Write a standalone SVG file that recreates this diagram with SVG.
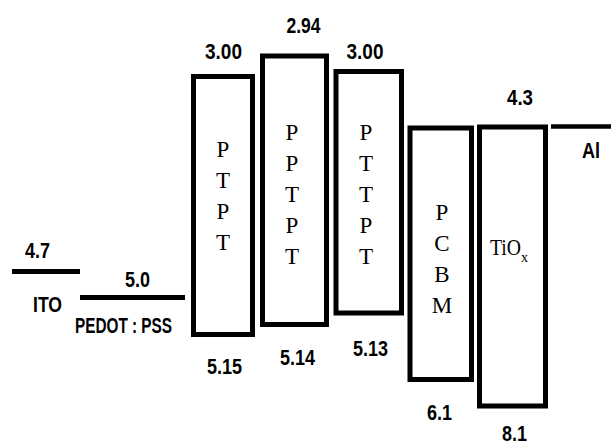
<svg xmlns="http://www.w3.org/2000/svg" width="611" height="446" viewBox="0 0 611 446">
<style>
.bg{fill:#fff}
.box{fill:#fff;stroke:#000;stroke-width:5;stroke-linejoin:miter}
.lvl{stroke:#000;stroke-width:5;fill:none}
.num{font-family:"Liberation Sans",Arial,sans-serif;font-weight:bold;font-size:22px;fill:#000;text-anchor:middle}
.mat{font-family:"Liberation Serif","Times New Roman",serif;font-size:23px;fill:#000;text-anchor:middle}
</style>
<rect class="bg" x="0" y="0" width="611" height="446"/>
<g id="ITO">
<line class="lvl" x1="12" y1="271.5" x2="80" y2="271.5"/>
<text class="num" x="37.5" y="258" textLength="25" lengthAdjust="spacingAndGlyphs">4.7</text>
<text class="num" x="47.5" y="312" textLength="29" lengthAdjust="spacingAndGlyphs">ITO</text>
</g>
<g id="PEDOT_PSS">
<line class="lvl" x1="80" y1="297.5" x2="185" y2="297.5"/>
<text class="num" x="137.5" y="287" textLength="25" lengthAdjust="spacingAndGlyphs">5.0</text>
<text class="num" x="123.5" y="333" textLength="97" lengthAdjust="spacingAndGlyphs">PEDOT : PSS</text>
</g>
<g id="PTPT">
<rect class="box" x="193.5" y="76.5" width="59" height="258"/>
<text class="num" x="223.5" y="59" textLength="37" lengthAdjust="spacingAndGlyphs">3.00</text>
<text class="num" x="224.5" y="374" textLength="35" lengthAdjust="spacingAndGlyphs">5.15</text>
<text class="mat" x="223" y="157">P</text>
<text class="mat" x="223" y="188">T</text>
<text class="mat" x="223" y="219">P</text>
<text class="mat" x="223" y="250">T</text>
</g>
<g id="PPTPT">
<rect class="box" x="262.5" y="56" width="64" height="268.5"/>
<text class="num" x="303.5" y="33" textLength="34" lengthAdjust="spacingAndGlyphs">2.94</text>
<text class="num" x="297.5" y="365" textLength="35" lengthAdjust="spacingAndGlyphs">5.14</text>
<text class="mat" x="292" y="140">P</text>
<text class="mat" x="292" y="171">P</text>
<text class="mat" x="292" y="202">T</text>
<text class="mat" x="292" y="233">P</text>
<text class="mat" x="292" y="264">T</text>
</g>
<g id="PTTPT">
<rect class="box" x="336" y="71.5" width="65.5" height="241.5"/>
<text class="num" x="365" y="59" textLength="37" lengthAdjust="spacingAndGlyphs">3.00</text>
<text class="num" x="370.5" y="356" textLength="35" lengthAdjust="spacingAndGlyphs">5.13</text>
<text class="mat" x="366" y="140">P</text>
<text class="mat" x="366" y="171">T</text>
<text class="mat" x="366" y="202">T</text>
<text class="mat" x="366" y="233">P</text>
<text class="mat" x="366" y="264">T</text>
</g>
<g id="PCBM">
<rect class="box" x="410" y="128" width="61.5" height="251.5"/>
<text class="num" x="439.5" y="420" textLength="25" lengthAdjust="spacingAndGlyphs">6.1</text>
<text class="mat" x="442" y="220">P</text>
<text class="mat" x="442" y="251">C</text>
<text class="mat" x="442" y="282">B</text>
<text class="mat" x="442" y="313">M</text>
</g>
<g id="TiOx">
<rect class="box" x="479.5" y="127" width="66" height="279"/>
<text class="num" x="520" y="105" textLength="26" lengthAdjust="spacingAndGlyphs">4.3</text>
<text class="num" x="514.5" y="441" textLength="25" lengthAdjust="spacingAndGlyphs">8.1</text>
<text class="mat" x="490" y="255" style="text-anchor:start"><tspan textLength="31" lengthAdjust="spacingAndGlyphs">TiO</tspan><tspan dy="7" style="font-size:14px">x</tspan></text>
</g>
<g id="Al">
<line class="lvl" x1="551" y1="126.5" x2="611" y2="126.5" style="stroke-width:4.5"/>
<text class="num" x="591" y="158" textLength="18" lengthAdjust="spacingAndGlyphs">Al</text>
</g>
<g id="connectors"></g>
</svg>
